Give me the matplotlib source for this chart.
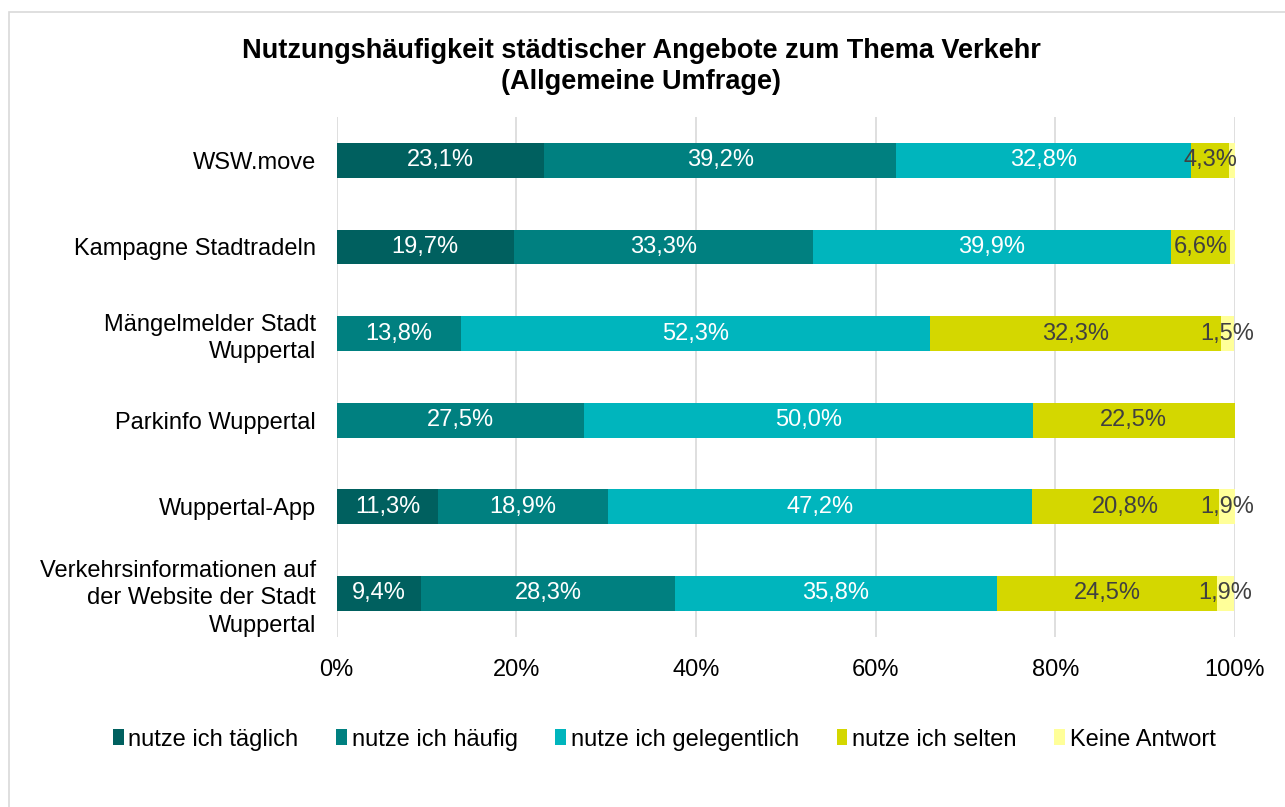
import matplotlib
matplotlib.use("Agg")
import matplotlib.pyplot as plt
import numpy as np
from matplotlib.patches import Rectangle

plt.rcParams["font.family"] = ["Liberation Sans", "DejaVu Sans"]

categories = [
    "WSW.move",
    "Kampagne Stadtradeln",
    "Mängelmelder Stadt\nWuppertal",
    "Parkinfo Wuppertal",
    "Wuppertal-App",
    "Verkehrsinformationen auf\nder Website der Stadt\nWuppertal",
]
series_names = ["nutze ich täglich", "nutze ich häufig", "nutze ich gelegentlich",
                "nutze ich selten", "Keine Antwort"]
taeglich = [23.1, 19.7, 0.0, 0.0, 11.3, 9.4]
haeufig = [39.2, 33.3, 13.8, 27.5, 18.9, 28.3]
gelegentlich = [32.8, 39.9, 52.3, 50.0, 47.2, 35.8]
selten = [4.3, 6.6, 32.3, 22.5, 20.8, 24.5]
keine = [0.6, 0.5, 1.5, 0.0, 1.9, 1.9]

colors = ["#00605f", "#008080", "#00b5bd", "#d4d700", "#ffff99"]
text_colors = ["white", "white", "white", "#404040", "#404040"]
fs = 17

fig = plt.figure(figsize=(12.85, 8.07), dpi=100)
ax = fig.add_axes([0.262, 0.211, 0.699, 0.644])
fig.patches.append(Rectangle((0.007, -0.1), 1.1, 1.085, transform=fig.transFigure,
                             fill=False, edgecolor="#d9d9d9", linewidth=1.2))

y = np.arange(len(categories))
left = np.zeros(len(categories))
for name, vals, col, tc in zip(series_names, [taeglich, haeufig, gelegentlich, selten, keine],
                               colors, text_colors):
    vals = np.array(vals)
    ax.barh(y, vals, left=left, height=0.4, color=col, label=name, zorder=3)
    for yi, v, l in zip(y, vals, left):
        if v >= 1.5:
            ax.text(l + v / 2, yi, f"{v:.1f}%".replace(".", ","), ha="center", va="center",
                    color=tc, fontsize=fs, zorder=4)
    left += vals

ax.set_xlim(0, 100)
ax.set_ylim(5.5, -0.5)
ax.set_xticks(np.arange(0, 101, 20))
ax.set_xticklabels([f"{t}%" for t in range(0, 101, 20)], fontsize=fs, color="#000000")
ax.set_yticks(y)
ax.set_yticklabels(categories, fontsize=fs, linespacing=1.3)
ax.tick_params(length=0)
ax.tick_params(axis="y", pad=15)
ax.tick_params(axis="x", pad=16)
ax.grid(axis="x", color="#d9d9d9", linewidth=1.2, zorder=0)
for s in ax.spines.values():
    s.set_visible(False)

fig.text(0.499, 0.918, "Nutzungshäufigkeit städtischer Angebote zum Thema Verkehr\n(Allgemeine Umfrage)",
         ha="center", va="center", fontsize=19.5, fontweight="bold", linespacing=1.25)

fig.legend(loc="center", bbox_to_anchor=(0.517, 0.0835), ncol=5, frameon=False,
           fontsize=fs, handlelength=0.45, handleheight=0.65, handletextpad=0.2,
           columnspacing=1.6)

fig.savefig("out.png", dpi=100)
